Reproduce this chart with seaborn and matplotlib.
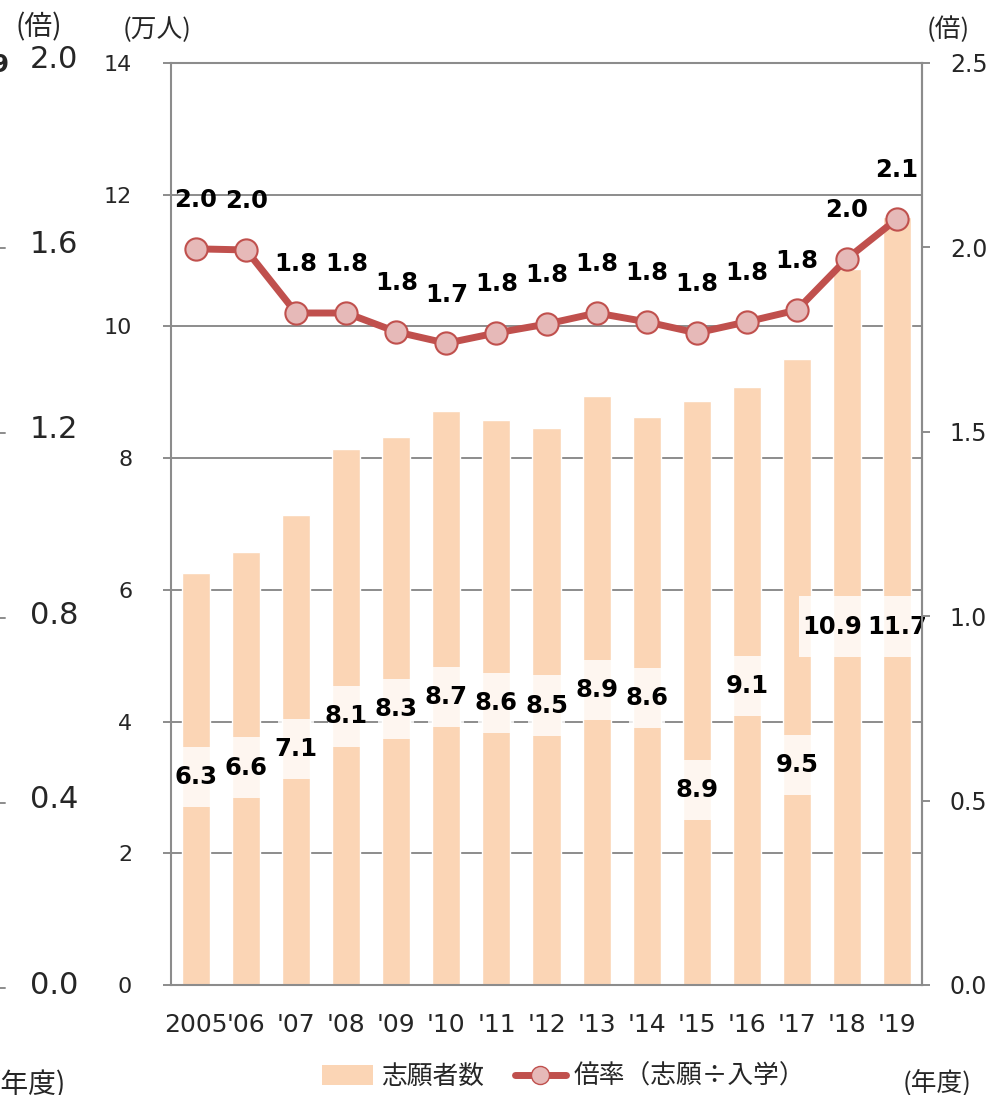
import numpy as np
import pandas as pd
import matplotlib
matplotlib.use("agg")
import matplotlib.pyplot as plt
from matplotlib.patches import Rectangle, Patch
from matplotlib.lines import Line2D
from matplotlib.ticker import MultipleLocator, FormatStrFormatter
import seaborn as sns

# data
years = ["2005", "'06", "'07", "'08", "'09", "'10", "'11", "'12",
         "'13", "'14", "'15", "'16", "'17", "'18", "'19"]
applicants = [6.26, 6.57, 7.14, 8.14, 8.32, 8.72, 8.58, 8.46,
              8.94, 8.62, 8.86, 9.08, 9.50, 10.87, 11.66]  # 万人
ratio = [1.996, 1.993, 1.822, 1.822, 1.771, 1.74, 1.768, 1.792,
         1.822, 1.798, 1.768, 1.798, 1.830, 1.969, 2.077]  # 倍
ghost_ticks = ["2.0", "1.6", "1.2", "0.8", "0.4", "0.0"]

# where Excel left the bar labels (left-axis units) and small x shifts
label_y = [3.16, 3.30, 3.58, 4.08, 4.19, 4.37, 4.28, 4.24,
           4.48, 4.36, 2.96, 4.54, 3.34, 5.44, 5.44]
label_dx = [0, 0, 0, 0, 0, 0, 0, 0, 0, 0, 0, 0, 0, -0.3, 0]

BAR = "#FBD5B5"
LINE = "#C0504D"
MARK = "#E6B9B8"
GRAY = "#8C8C8C"

sns.set_style("white")
plt.rcParams["font.family"] = ["DejaVu Sans", "Noto Sans CJK JP"]
JP = ["Noto Sans CJK JP", "DejaVu Sans"]


def main():
    fig = plt.figure(figsize=(9.99, 10.95), dpi=100)
    ax1 = fig.add_axes([0.1712, 0.1005, 0.7517, 0.842])

    df = pd.DataFrame({"year": years, "applicants": applicants, "ratio": ratio})
    sns.barplot(data=df, x="year", y="applicants", color=BAR, saturation=1,
                width=0.56, ax=ax1, zorder=2)
    ax1.set_xlim(-0.5, len(years) - 0.5)
    ax1.set_ylim(0, 14)
    ax1.yaxis.set_major_locator(MultipleLocator(2))
    ax1.set_xlabel("")
    ax1.set_ylabel("")
    ax1.set_axisbelow(True)
    ax1.yaxis.grid(True, color=GRAY, lw=1.4)
    for s in ["left", "bottom", "top", "right"]:
        ax1.spines[s].set_color(GRAY)
        ax1.spines[s].set_linewidth(1.5)
    ax1.tick_params(axis="y", length=6, width=1.4, color=GRAY, pad=22, labelsize=16)
    ax1.tick_params(axis="x", which="major", length=0, pad=20, labelsize=18)
    ax1.set_xticks(np.arange(-0.5, len(years)), minor=True)
    ax1.tick_params(axis="x", which="minor", length=6, width=1.4, color=GRAY)

    # bar value labels on half-transparent white boxes
    for i, v in enumerate(applicants):
        txt = f"{v:.1f}"
        w = 0.72 if len(txt) == 3 else 1.3
        x = i + label_dx[i]
        ax1.add_patch(Rectangle((x - w / 2, label_y[i] - 0.46), w, 0.92,
                                facecolor="white", alpha=0.8, lw=0, zorder=4))
        ax1.text(x, label_y[i], txt, ha="center", va="center",
                 fontsize=17.5, fontweight="bold", color="black", zorder=5)

    ax2 = ax1.twinx()
    sns.lineplot(x=np.arange(len(years)), y=df["ratio"], ax=ax2, color=LINE, lw=5,
                 marker="o", markersize=16, markerfacecolor=MARK,
                 markeredgecolor=LINE, markeredgewidth=1.5)
    ax2.set_xlim(-0.5, len(years) - 0.5)
    ax2.set_ylim(0, 2.5)
    ax2.yaxis.set_major_locator(MultipleLocator(0.5))
    ax2.yaxis.set_major_formatter(FormatStrFormatter("%.1f"))
    ax2.set_ylabel("")
    for s in ["left", "bottom", "top"]:
        ax2.spines[s].set_visible(False)
    ax2.spines["right"].set_color(GRAY)
    ax2.spines["right"].set_linewidth(1.5)
    ax2.tick_params(axis="y", length=6, width=1.4, color=GRAY, pad=14, labelsize=17)
    for i, v in enumerate(ratio):
        ax2.annotate(f"{v:.1f}", (i, v), xytext=(0, 35), textcoords="offset points",
                     ha="center", va="center", fontsize=17.5, fontweight="bold",
                     color="black")

    # unit captions
    fig.text(0.157, 0.9726, "(万人)", ha="center", va="center", fontsize=18.5, family=JP)
    fig.text(0.949, 0.9726, "(倍)", ha="center", va="center", fontsize=18.5, family=JP)
    fig.text(0.938, 0.011, "(年度)", ha="center", va="center", fontsize=18.5, family=JP)

    # cut-off axis of the neighbouring chart at the left edge
    fig.text(0.039, 0.975, "(倍)", ha="center", va="center", fontsize=20, family=JP)
    fig.text(0.009, 0.941, "1.9", ha="right", va="center", fontsize=17.5, fontweight="bold")
    for k, t in enumerate(ghost_ticks):
        yf = 1 - (60 + 185 * k) / 1095
        fig.text(0.054, yf, t, ha="center", va="center", fontsize=22)
        fig.add_artist(Line2D([0, 0.005], [yf - 0.003, yf - 0.003], color=GRAY, lw=1.4))
    fig.text(0.066, 0.009, "(年度)", ha="right", va="center", fontsize=20, family=JP)

    handles = [Patch(facecolor=BAR, edgecolor="none"),
               Line2D([], [], color=LINE, lw=5, marker="o", markersize=13,
                      markerfacecolor=MARK, markeredgecolor=LINE)]
    fig.legend(handles, ["志願者数", "倍率（志願÷入学）"], loc="center",
               bbox_to_anchor=(0.564, 0.0165), ncol=2, frameon=False,
               prop={"family": JP, "size": 18.5}, handlelength=2.0,
               handletextpad=0.3, columnspacing=1.2, handleheight=0.8)

    fig.savefig("out.png", dpi=100)
    plt.close(fig)


if __name__ == "__main__":
    main()
